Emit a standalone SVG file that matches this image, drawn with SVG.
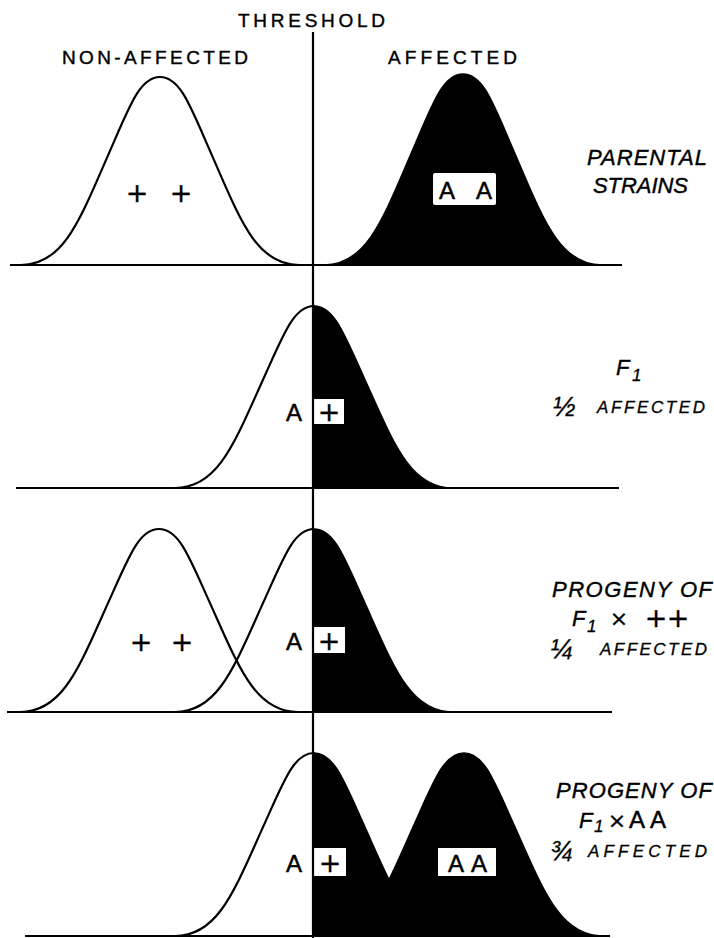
<svg xmlns="http://www.w3.org/2000/svg" width="714" height="938" viewBox="0 0 714 938">
<style>
.ax{stroke:#000;stroke-width:2.2;fill:none}
.cv{stroke:#000;stroke-width:2.2;fill:none}
.wf{fill:#fff;stroke:#000;stroke-width:2.2}
.bf{fill:#000;stroke:#000;stroke-width:1.5}
.box{fill:#fff}
.hd{font-family:"Liberation Sans",Arial,sans-serif;font-size:19px;fill:#000;stroke:#000;stroke-width:0.4}
.lb{font-family:"Liberation Sans",Arial,sans-serif;font-size:22px;font-style:italic;fill:#000;stroke:#000;stroke-width:0.4}
.sub{font-family:"Liberation Sans",Arial,sans-serif;font-size:17px;font-style:italic;fill:#000;stroke:#000;stroke-width:0.3}
.sm{font-family:"Liberation Sans",Arial,sans-serif;font-size:17px;font-style:italic;fill:#000;stroke:#000;stroke-width:0.3}
.fr{font-family:"Liberation Sans",Arial,sans-serif;font-size:27px;font-style:italic;fill:#000;stroke:#000;stroke-width:0.3}
.gt{font-family:"Liberation Sans",Arial,sans-serif;font-size:24px;fill:#000;text-anchor:middle;stroke:#000;stroke-width:0.5}
.pl{font-family:"DejaVu Sans",sans-serif;font-size:27px;fill:#000;text-anchor:middle;stroke:#000;stroke-width:0.3}
.mx{font-family:"DejaVu Sans",sans-serif;font-size:22px;fill:#000;text-anchor:middle;stroke:#000;stroke-width:0.3}
</style>
<rect width="714" height="938" fill="#fff"/>

<g id="headers">
<text class="hd" x="238" y="27" textLength="147" lengthAdjust="spacing">THRESHOLD</text>
<text class="hd" x="62" y="64" textLength="186" lengthAdjust="spacing">NON-AFFECTED</text>
<text class="hd" x="388" y="64" textLength="129" lengthAdjust="spacing">AFFECTED</text>
</g>

<g id="panel1">
<path class="cv" d="M21,265 C64,265 80,219.3 110,150.9 C130,105.2 140,77 160,77 C180,77 190,105.2 210,150.9 C240,219.3 256,265 299,265"/>
<path class="bf" d="M324,265 C367,265 383,218.6 413,149.1 C433,102.6 443,74 463,74 C483,74 493,102.6 513,149.1 C543,218.6 559,265 602,265 Z"/>
<rect class="box" x="433" y="173" width="63" height="32" rx="2"/>
<text class="gt" x="447" y="199">A</text>
<text class="gt" x="484" y="199">A</text>
<text class="pl" x="137" y="202">+</text>
<text class="pl" x="181" y="202">+</text>
<line class="ax" x1="10" y1="265" x2="622" y2="265"/>
<text class="lb" x="587" y="165" textLength="120" lengthAdjust="spacing">PARENTAL</text>
<text class="lb" x="593" y="193" textLength="95" lengthAdjust="spacing">STRAINS</text>
</g>

<g id="panel2">
<path class="wf" d="M175,488 C218,488 234,443.8 264,377.5 C284,333.3 294,306 314,306 L314,488 Z"/>
<path class="bf" d="M314,306 C334,306 344,333.3 364,377.5 C394,443.8 410,488 453,488 L314,488 Z"/>
<rect class="box" x="314" y="399" width="30" height="25"/>
<text class="gt" x="294" y="421">A</text>
<text class="pl" x="329" y="421">+</text>
<line class="ax" x1="16" y1="488" x2="619" y2="488"/>
<text class="lb" x="616" y="375">F</text>
<text class="sub" x="632" y="381">1</text>
<text class="fr" x="553" y="416">½</text>
<text class="sm" x="597" y="413" textLength="108" lengthAdjust="spacing">AFFECTED</text>
</g>

<g id="panel3">
<path class="cv" d="M20,712 C63,712 79,667.5 109,600.9 C129,556.4 139,529 159,529 C179,529 189,556.4 209,600.9 C239,667.5 255,712 298,712"/>
<path class="cv" d="M175,712 C218,712 234,667.5 264,600.9 C284,556.4 294,529 314,529"/>
<path class="bf" d="M314,529 C334,529 344,556.4 364,600.9 C394,667.5 410,712 453,712 L314,712 Z"/>
<rect class="box" x="314" y="627" width="31" height="26"/>
<text class="gt" x="294" y="650">A</text>
<text class="pl" x="329" y="650">+</text>
<text class="pl" x="141" y="651">+</text>
<text class="pl" x="182" y="651">+</text>
<line class="ax" x1="7" y1="712" x2="612" y2="712"/>
<text class="lb" x="552" y="597" textLength="160" lengthAdjust="spacing">PROGENY OF</text>
<text class="lb" x="572" y="626">F</text>
<text class="sub" x="587" y="632">1</text>
<text class="mx" x="619" y="626">×</text>
<text class="pl" x="656" y="627">+</text>
<text class="pl" x="678" y="627">+</text>
<text class="fr" x="550" y="658">¼</text>
<text class="sm" x="600" y="655" textLength="107" lengthAdjust="spacing">AFFECTED</text>
</g>

<g id="panel4">
<path class="bf" d="M314,753 C334,753 344,780.4 364,824.9 C394,891.5 410,936 453,936 L314,936 Z"/>
<path class="bf" d="M325,936 C368,936 384,891.5 414,824.9 C434,780.4 444,753 464,753 C484,753 494,780.4 514,824.9 C544,891.5 560,936 603,936 Z"/>
<path class="wf" d="M175,936 C218,936 234,891.5 264,824.9 C284,780.4 294,753 314,753 L314,936 Z"/>
<rect class="box" x="314" y="848" width="32" height="28"/>
<rect class="box" x="438" y="848" width="58" height="28"/>
<text class="gt" x="294" y="872">A</text>
<text class="pl" x="330" y="872">+</text>
<text class="gt" x="456" y="872">A</text>
<text class="gt" x="479" y="872">A</text>
<line class="ax" x1="25" y1="936" x2="610" y2="936"/>
<text class="lb" x="556" y="798" textLength="156" lengthAdjust="spacing">PROGENY OF</text>
<text class="lb" x="579" y="828">F</text>
<text class="sub" x="594" y="832">1</text>
<text class="mx" x="617" y="828">×</text>
<text class="gt" x="637" y="828">A</text>
<text class="gt" x="658" y="828">A</text>
<text class="fr" x="550" y="860">¾</text>
<text class="sm" x="588" y="857" textLength="119" lengthAdjust="spacing">AFFECTED</text>
</g>

<g id="connectors">
<line class="ax" x1="313" y1="32" x2="313" y2="938"/>
</g>
</svg>
